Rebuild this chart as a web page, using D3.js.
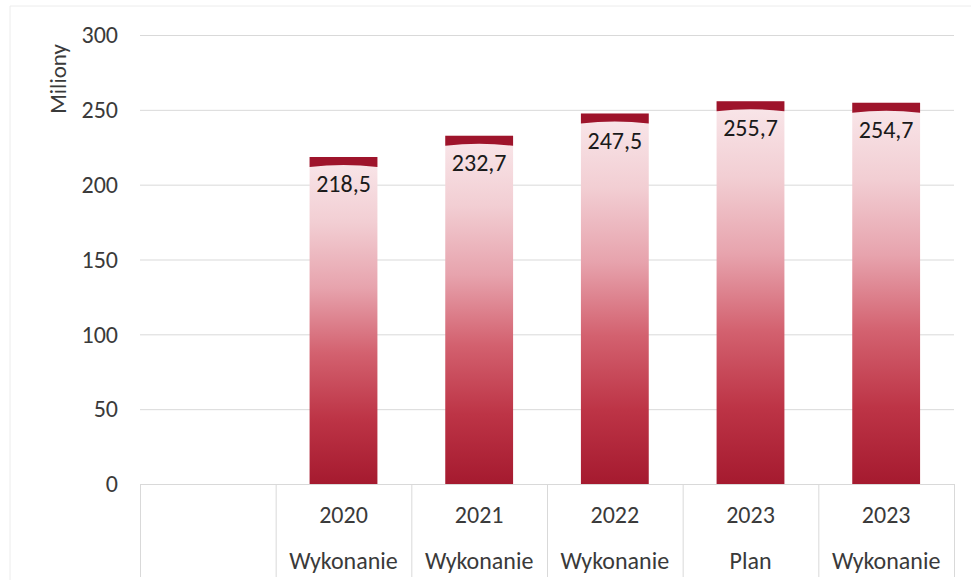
<!DOCTYPE html>
<html><head><meta charset="utf-8">
<script src="https://cdn.jsdelivr.net/npm/d3@7"></script>
<style>body{margin:0;background:#fff}svg{display:block}text{font-family:Carlito,Lato,"Open Sans",sans-serif}</style>
</head><body><svg id="c" width="971" height="584"></svg>
<script>
const years = ["", "2020", "2021", "2022", "2023", "2023"];
const kinds = ["", "Wykonanie", "Wykonanie", "Wykonanie", "Plan", "Wykonanie"];
const values = [null, 218.5, 232.7, 247.5, 255.7, 254.7];
const yTicks = [0, 50, 100, 150, 200, 250, 300];
const yTitle = "Miliony";

const svg = d3.select("#c");
const L = 140, R = 954, T = 35, B = 484, tableBottom = 577;
const idx = d3.range(years.length);
const x = d3.scaleBand().domain(idx).range([L, R]).paddingInner(0.5).paddingOuter(0.25);
const xb = d3.scaleBand().domain(idx).range([L, R]);
const y = d3.scaleLinear().domain([0, 300]).range([B, T]);

// outer frame (faint)
svg.append("path").attr("d", `M10,580 V6 H971`).attr("fill","none").attr("stroke","#ececec").attr("stroke-width",1);

// gradient
const defs = svg.append("defs");
const g = defs.append("linearGradient").attr("id","bg").attr("x1",0).attr("y1",0).attr("x2",0).attr("y2",1);
[[0,"#f9e7ea"],[0.2,"#f2ced3"],[0.4,"#e7a3ad"],[0.6,"#d3616f"],[0.8,"#bd3446"],[1,"#a51a2f"]]
  .forEach(([o,c]) => g.append("stop").attr("offset",o).attr("stop-color",c));

// gridlines & y axis
const yAxis = d3.axisLeft(y).tickValues(yTicks).tickSize(-(R - L)).tickFormat(d3.format("d")).tickPadding(22);
const ga = svg.append("g").attr("transform",`translate(${L},0)`).call(yAxis);
ga.select(".domain").remove();
ga.selectAll(".tick line").attr("stroke","#d9d9d9").attr("stroke-width",1);
ga.selectAll(".tick text").attr("fill","#3a3a3a").attr("font-size",24);

svg.append("text").attr("transform","translate(66,79) rotate(-90)").attr("text-anchor","middle")
  .attr("fill","#3a3a3a").attr("font-size",23).text(yTitle);

// category table lines
const tbl = svg.append("g").attr("stroke","#d9d9d9").attr("stroke-width",1);
tbl.append("line").attr("x1",L).attr("x2",R).attr("y1",B+0.5).attr("y2",B+0.5);
idx.concat([idx.length]).forEach(i => {
  const xx = i < idx.length ? xb(i) : R;
  tbl.append("line").attr("x1",xx+0.5).attr("x2",xx+0.5).attr("y1",B).attr("y2",tableBottom);
});

// bars
const data = idx.filter(i => values[i] != null);
const bars = svg.append("g");
data.forEach(i => {
  const x0 = x(i), w = x.bandwidth(), yt = y(values[i]);
  bars.append("rect").attr("x",x0).attr("y",yt).attr("width",w).attr("height",B - yt).attr("fill","url(#bg)");
  const ch = 10;
  bars.append("path").attr("fill","#9e142b")
    .attr("d",`M${x0},${yt} H${x0+w} V${yt+ch} Q${x0+w/2},${yt+ch-4} ${x0},${yt+ch} Z`);
  bars.append("text").attr("x",x0 + w/2).attr("y",yt + 35).attr("text-anchor","middle")
    .attr("fill","#1a1a1a").attr("font-size",24).text(d3.format(".1f")(values[i]).replace(".",","));
});

// category labels
const cl = svg.append("g").attr("fill","#3a3a3a").attr("font-size",24).attr("text-anchor","middle");
idx.forEach(i => {
  const cx = xb(i) + xb.bandwidth()/2;
  cl.append("text").attr("x",cx).attr("y",523).text(years[i]);
  cl.append("text").attr("x",cx).attr("y",569).text(kinds[i]);
});
</script></body></html>
